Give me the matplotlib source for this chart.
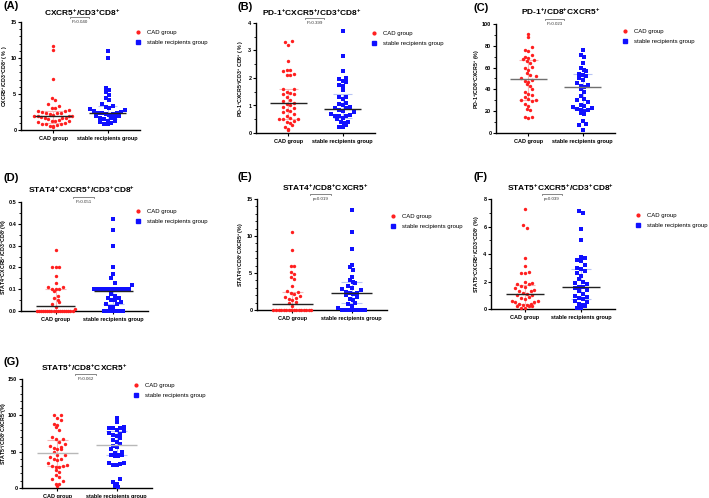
import matplotlib
matplotlib.use('Agg')
import matplotlib.pyplot as plt
import numpy as np
from matplotlib.lines import Line2D
from matplotlib.ticker import AutoMinorLocator, FormatStrFormatter

plt.rcParams['font.family'] = ['Liberation Sans', 'DejaVu Sans']
plt.rcParams['mathtext.default'] = 'regular'

# ---- data ----
groups = ['CAD group', 'stable recipients group']

cad_a = [11.7, 11.1, 7.1, 4.5, 4.2, 3.6, 3.4, 3.1, 3.0, 2.8, 2.7, 2.6, 2.5, 2.4, 2.3, 2.2, 2.1, 2.0, 2.0,
         1.9, 1.9, 1.8, 1.7, 1.6, 1.5, 1.4, 1.3, 1.2, 1.1, 1.0, 0.9, 0.8, 0.7, 0.6, 0.5, 0.4, 1.7, 1.3, 0.9, 2.3]
stable_a = [11.0, 10.0, 5.9, 5.6, 5.3, 4.9, 4.4, 4.1, 3.6, 3.4, 3.2, 3.0, 2.9, 2.8, 2.6, 2.5, 2.4, 2.4,
            2.3, 2.2, 2.1, 2.0, 1.9, 1.8, 1.7, 1.6, 1.5, 1.3, 1.1, 1.0, 0.9, 0.8, 1.2, 2.2]
cad_b = [3.35, 3.3, 3.2, 2.6, 2.3, 2.3, 2.25, 2.15, 2.1, 2.1, 1.6, 1.6, 1.5, 1.45, 1.4, 1.4, 1.3, 1.2, 1.1,
         1.05, 1.0, 0.95, 0.9, 0.8, 0.75, 0.7, 0.6, 0.5, 0.5, 0.5, 0.45, 0.4, 0.3, 0.2, 0.15, 0.1, 0.35,
         0.85, 1.15, 0.55]
stable_b = [3.7, 2.8, 2.25, 2.0, 1.95, 1.9, 1.85, 1.75, 1.7, 1.55, 1.3, 1.3, 1.25, 1.1, 1.05, 0.95, 0.9,
            0.9, 0.85, 0.8, 0.75, 0.7, 0.65, 0.6, 0.6, 0.6, 0.55, 0.4, 0.4, 0.35, 0.3, 0.2, 0.2, 1.0, 0.5]
cad_c = [91, 88, 79, 76, 75, 72, 70, 69, 68, 67, 66, 64, 61, 60, 58, 55, 53, 52, 50, 49, 48, 45, 43, 40,
         38, 36, 35, 33, 31, 30, 30, 29, 27, 25, 22, 21, 15, 15, 14, 47]
stable_c = [76, 72, 70, 64, 60, 58, 57, 54, 53, 52, 50, 49, 46, 43, 42, 40, 38, 34, 31, 28, 26, 25, 24, 23,
            22, 21, 21, 20, 18, 17, 11, 8, 7, 3, 30, 44]
cad_d = [0.28, 0.2, 0.2, 0.2, 0.16, 0.13, 0.11, 0.11, 0.1, 0.1, 0.1, 0.09, 0.07, 0.06, 0.05, 0.04, 0.03,
         0.02, 0.01] + [0.0] * 18
stable_d = [0.42, 0.37, 0.30, 0.20, 0.17, 0.15, 0.13, 0.12] + [0.10] * 12 + \
           [0.08, 0.07, 0.06, 0.06, 0.05, 0.05, 0.04, 0.03, 0.03, 0.02, 0.02] + [0.0] * 6
cad_e = [10.6, 8.1, 5.9, 5.9, 5.2, 4.9, 4.4, 4.2, 3.2, 2.6, 2.4, 2.3, 2.2, 1.9, 1.7, 1.6, 1.5, 1.3, 1.1,
         0.9, 0.5] + [0.0] * 16
stable_e = [13.5, 10.5, 8.2, 6.1, 5.8, 5.4, 4.5, 4.0, 3.8, 3.6, 3.2, 3.0, 2.8, 2.7, 2.4, 2.3, 2.3, 2.2,
            2.0, 1.8, 1.5, 1.3, 1.0, 0.8, 0.6, 0.3] + [0.0] * 7
cad_f = [7.3, 6.1, 5.9, 3.7, 3.1, 2.7, 2.6, 2.6, 2.0, 1.9, 1.8, 1.8, 1.7, 1.6, 1.5, 1.4, 1.3, 1.2, 1.1,
         1.0, 0.9, 0.8, 0.7, 0.6, 0.5, 0.5, 0.4, 0.3, 0.3, 0.2, 0.2, 0.1, 0.1, 0.2, 0.6, 1.0, 1.3, 0.4]
stable_f = [7.1, 7.0, 5.8, 5.0, 3.8, 3.7, 3.6, 3.5, 3.2, 3.0, 2.9, 2.8, 2.6, 2.4, 2.2, 2.0, 1.9, 1.8, 1.6,
            1.5, 1.4, 1.3, 1.1, 0.9, 0.8, 0.7, 0.6, 0.5, 0.4, 0.3, 0.2, 0.1, 0.1, 0.95, 1.6]
cad_g = [100, 100, 96, 94, 88, 87, 84, 80, 70, 68, 67, 63, 60, 58, 56, 55, 54, 53, 50, 46, 45, 42, 40, 40,
         38, 35, 31, 30, 30, 29, 29, 25, 22, 18, 15, 12, 10, 5, 3, 5]
stable_g = [96, 91, 84, 83, 82, 82, 80, 78, 76, 75, 73, 71, 69, 66, 63, 60, 58, 56, 53, 50, 48, 46, 45, 45,
            44, 44, 35, 34, 33, 32, 31, 12, 8, 5, 3, 1]

# median and interquartile range shown in each panel: [CAD, stable]
medians = {'A': [1.9, 2.4], 'B': [1.08, 0.86], 'C': [49.5, 42.5], 'D': [0.025, 0.092],
           'E': [0.8, 2.3], 'F': [1.1, 1.6], 'G': [48, 59.5]}
iqrs = {'A': [(1.0, 2.6), (1.5, 3.4)], 'B': [(0.5, 1.6), (0.55, 1.4)], 'C': [(30, 67), (22, 54)],
        'D': [(0.0, 0.1), (0.03, 0.1)], 'E': [(0.0, 2.4), (1.0, 3.8)], 'F': [(0.35, 1.75), (0.75, 2.9)],
        'G': [(30, 66), (45, 78)]}
pvalues = {'A': 'P=0.040', 'B': 'P=0.399', 'C': 'P=0.023', 'D': 'P=0.051', 'E': 'p=0.019',
           'F': 'p=0.039', 'G': 'P=0.062'}

P = '$^{+}$'
titles = {'A': f'CXCR5{P}/CD3{P}CD8{P}', 'B': f'PD-1{P}CXCR5{P}/CD3{P}CD8{P}',
          'C': f'PD-1{P}/CD8{P}CXCR5{P}', 'D': f'STAT4{P}CXCR5{P}/CD3{P}CD8{P}',
          'E': f'STAT4{P}/CD8{P}CXCR5{P}', 'F': f'STAT5{P}CXCR5{P}/CD3{P}CD8{P}',
          'G': f'STAT5{P}/CD8{P}CXCR5{P}'}
ylabels = {'A': f'CXCR5{P}/CD3{P}CD8{P} ( % )', 'B': f'PD-1{P}CXCR5{P}/CD3{P} CD8{P} ( % )',
           'C': f'PD-1{P}/CD8{P}CXCR5{P} (%)', 'D': f'STAT4{P}CXCR5{P}/CD3{P}CD8{P}(%)',
           'E': f'STAT4{P}/CD8{P}CXCR5{P} (%)', 'F': f'STAT5{P}CXCR5{P}/CD3{P}CD8{P} (%)',
           'G': f'STAT5{P}/CD8{P}CXCR5{P}(%)'}
values = {'A': (cad_a, stable_a), 'B': (cad_b, stable_b), 'C': (cad_c, stable_c), 'D': (cad_d, stable_d),
          'E': (cad_e, stable_e), 'F': (cad_f, stable_f), 'G': (cad_g, stable_g)}

# ---- layout (pixel boxes: left, top, right, bottom) ----
W, H = 709, 498
layout = {
    'A': dict(box=(21, 22, 140, 130), ymax=15, step=5, fmt='%d', letter=(3, 6), title=(82, 13), leg=(136, 30), lab=16),
    'B': dict(box=(256, 23, 375, 133), ymax=4, step=1, fmt='%d', letter=(238, 7), title=(312, 13), leg=(372, 31), lab=15),
    'C': dict(box=(496, 24, 615, 133), ymax=100, step=20, fmt='%d', letter=(473, 8), title=(561, 12), leg=(623, 29), lab=19),
    'D': dict(box=(21, 202, 148, 311), ymax=0.5, step=0.1, fmt='%.1f', letter=(3, 178), title=(82, 190), leg=(136, 209), lab=17),
    'E': dict(box=(257, 199, 387, 310), ymax=15, step=5, fmt='%d', letter=(238, 177), title=(325, 188), leg=(391, 214), lab=16),
    'F': dict(box=(491, 199, 615, 309), ymax=8, step=2, fmt='%d', letter=(473, 177), title=(561, 188), leg=(636, 213), lab=14),
    'G': dict(box=(22, 379, 152, 488), ymax=150, step=50, fmt='%d', letter=(3, 362), title=(84, 368), leg=(134, 383), lab=18),
}
median_colors = {'C': '#707070', 'G': '#b8b8b8'}
point_colors = ['#ff1f1f', '#1010ff']
iqr_colors = ['#f6b8b8', '#b8c4f4']
XMIN, XMAX = -0.6, 1.6


def fx(x):
    return x / W


def fy(y):
    return 1 - y / H


def column_scatter(vals, center, ypx, xpx, dx=3.8, bh=6.0, half=19.0):
    # points falling in the same vertical band are laid side by side
    vals = np.asarray(vals, dtype=float)
    xs = np.full(len(vals), float(center))
    bins = np.floor(vals * ypx / bh + 0.5).astype(int)
    for bv in np.unique(bins):
        idx = np.where(bins == bv)[0]
        idx = idx[np.argsort(vals[idx], kind='stable')]
        n = len(idx)
        step = dx if n < 2 else min(dx, 2 * half / (n - 1))
        order = np.arange(n)
        # alternate so neighbouring values land on opposite sides
        pos = np.where(order % 2 == 0, order // 2, -(order // 2 + 1)).astype(float)
        pos -= (pos.max() + pos.min()) / 2
        xs[idx] = center + pos * step / xpx
    return xs


fig = plt.figure(figsize=(W / 100, H / 100), dpi=100)

for key, cfg in layout.items():
    l, t, r, b = cfg['box']
    ax = fig.add_axes([fx(l), fy(b), (r - l) / W, (b - t) / H])
    ax.set_xlim(XMIN, XMAX)
    ax.set_ylim(0, cfg['ymax'])
    ypx = (b - t) / cfg['ymax']
    xpx = (r - l) / (XMAX - XMIN)

    for gi, vals in enumerate(values[key]):
        xs = column_scatter(vals, gi, ypx, xpx)
        ax.scatter(xs, vals, s=6, marker='s' if gi else 'o', color=point_colors[gi],
                   linewidths=0, clip_on=False, zorder=3)
        q1, q3 = iqrs[key][gi]
        ax.hlines([q1, q3], gi - 0.18, gi + 0.18, color=iqr_colors[gi], lw=0.8, zorder=2)
        ax.vlines(gi, q1, q3, color=iqr_colors[gi], lw=0.8, zorder=2)
        ax.hlines(medians[key][gi], gi - 0.34, gi + 0.34, color=median_colors.get(key, '#222222'),
                  lw=1.0, zorder=4)

    # significance bracket
    yb = 1.045
    ax.plot([0.3, 0.3, 0.66, 0.66], [yb - 0.012, yb, yb, yb - 0.012], transform=ax.get_xaxis_transform(),
            color='#555555', lw=0.5, clip_on=False)
    ax.text(0.48, yb - 0.045, pvalues[key], transform=ax.get_xaxis_transform(), ha='center', va='center',
            fontsize=3.2, color='#333333')

    for side in ['top', 'right']:
        ax.spines[side].set_visible(False)
    for side in ['left', 'bottom']:
        ax.spines[side].set_linewidth(1.0)
    ax.set_yticks(np.arange(0, cfg['ymax'] + cfg['step'] / 2, cfg['step']))
    ax.yaxis.set_major_formatter(FormatStrFormatter(cfg['fmt']))
    ax.yaxis.set_minor_locator(AutoMinorLocator(5 if key in 'AEG' else 2))
    ax.tick_params(axis='y', which='major', length=2.5, width=0.8, labelsize=4.0, pad=0.8)
    ax.tick_params(axis='y', which='minor', length=1.5, width=0.6)
    ax.set_xticks([0, 1])
    ax.set_xticklabels(groups, fontsize=4, fontweight='bold')
    ax.tick_params(axis='x', length=2, width=0.8, pad=2)
    for lab in ax.get_yticklabels():
        lab.set_fontweight('bold')
    ax.set_ylabel(ylabels[key], fontsize=3.8, fontweight='bold')
    ax.yaxis.set_label_coords(-cfg['lab'] / (r - l), 0.5)
    ax.yaxis.label.set_verticalalignment('center')

    fig.text(fx(cfg['letter'][0]), fy(cfg['letter'][1]), f'({key})', fontsize=8, fontweight='bold',
             ha='left', va='center')
    fig.text(fx(cfg['title'][0]), fy(cfg['title'][1]), titles[key], fontsize=6, fontweight='bold',
             ha='center', va='center')

    handles = [Line2D([], [], marker='o', ls='', color=point_colors[0], markersize=2),
               Line2D([], [], marker='s', ls='', color=point_colors[1], markersize=2.3)]
    ax.legend(handles, groups, loc='upper left', bbox_to_anchor=(fx(cfg['leg'][0]), fy(cfg['leg'][1])),
              bbox_transform=fig.transFigure, frameon=False, fontsize=4.3, handlelength=0.8,
              handletextpad=1.0, borderpad=0, borderaxespad=0, labelspacing=0.75)

fig.savefig('out.png', dpi=100)
